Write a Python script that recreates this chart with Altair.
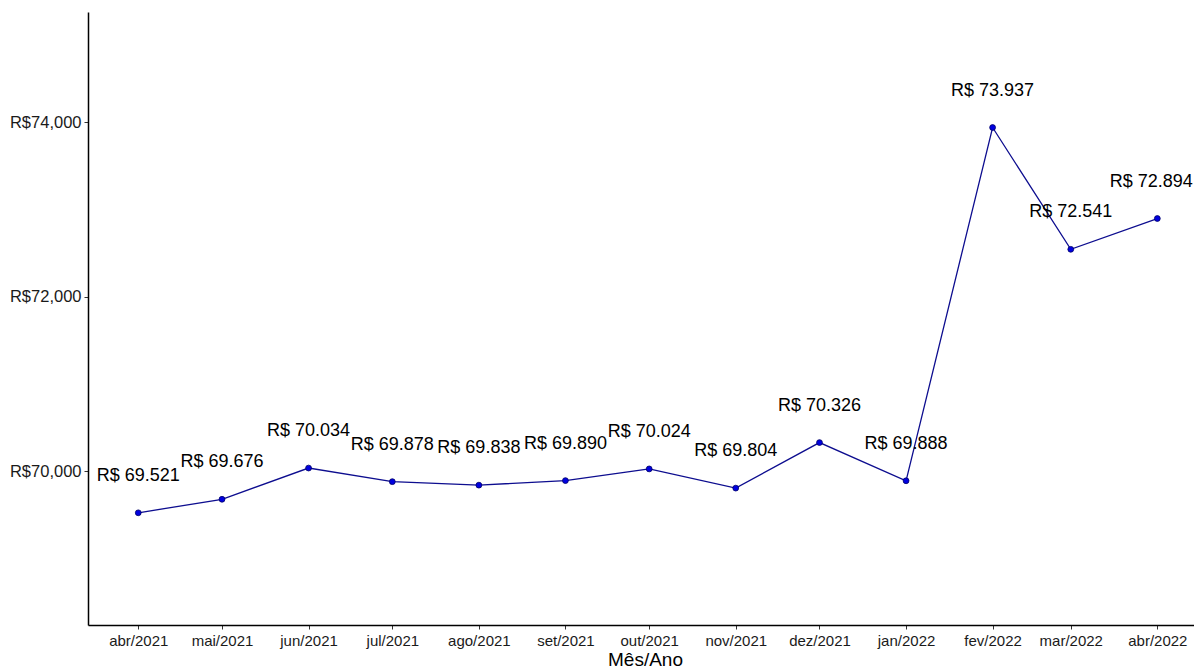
import altair as alt
import pandas as pd

# Data
meses = [(2021, 4), (2021, 5), (2021, 6), (2021, 7), (2021, 8), (2021, 9),
         (2021, 10), (2021, 11), (2021, 12), (2022, 1), (2022, 2), (2022, 3), (2022, 4)]
valores = [69521, 69676, 70034, 69878, 69838, 69890, 70024, 69804, 70326, 69888,
           73937, 72541, 72894]
abrev = ["jan", "fev", "mar", "abr", "mai", "jun", "jul", "ago", "set", "out", "nov", "dez"]
y_ticks = [70000, 72000, 74000]
titulo = "Fonte: Base de Dados SIGRH (Em Mil R$)"

df = pd.DataFrame({
    "mes": [f"{y:04d}-{m:02d}-01T00:00:00" for y, m in meses],
    "valor": valores,
})
df["rotulo"] = ["R$ " + f"{v:,}".replace(",", ".") for v in valores]
df["ultimo"] = [i == len(valores) - 1 for i in range(len(valores))]

month_values = [alt.DateTime(year=y, month=m, date=1) for y, m in meses]
label_expr = "[" + ",".join(f"'{a}'" for a in abrev) + "][month(datum.value)] + '/' + year(datum.value)"

x = alt.X(
    "mes:T",
    scale=alt.Scale(domain=[alt.DateTime(year=2021, month=3, date=14),
                            alt.DateTime(year=2022, month=4, date=17)]),
    axis=alt.Axis(values=month_values, labelExpr=label_expr, title="Mês/Ano",
                  grid=False, labelFontSize=15, titleFontSize=19,
                  labelPadding=4, titlePadding=2, labelOverlap=False,
                  titleFontWeight="normal", titleColor="black"),
)
y = alt.Y(
    "valor:Q",
    scale=alt.Scale(domain=[68235, 75261], nice=False, zero=False),
    axis=alt.Axis(values=y_ticks, labelExpr="'R$' + format(datum.value, ',')",
                  title=None, grid=False, labelFontSize=16.5, labelPadding=3),
)

base = alt.Chart(df).encode(x=x, y=y)
line = base.mark_line(color="#0d0d8f", strokeWidth=1.3)
points = base.mark_point(filled=True, color="#0000e0", size=34, opacity=1,
                         stroke="#000066", strokeWidth=0.8)
labels = base.transform_filter("!datum.ultimo").mark_text(
    dy=-37, fontSize=18, color="black", font="Liberation Sans").encode(text="rotulo:N")
last_label = base.transform_filter("datum.ultimo").mark_text(
    dy=-37, dx=-6, fontSize=18, color="black", font="Liberation Sans").encode(text="rotulo:N")

chart = (
    alt.layer(line, points, labels, last_label)
    .properties(
        width=1114,
        height=613,
        autosize=alt.AutoSizeParams(type="none"),
        padding={"left": 80, "top": 4, "right": -8, "bottom": 44},
        title=alt.TitleParams(titulo, anchor="start", fontSize=22,
                              fontWeight="normal", font="Liberation Sans",
                              color="black", offset=9),
    )
    .configure_view(stroke=None)
    .configure_axis(
        domainColor="black", domainWidth=1.5, tickColor="#333333", tickSize=4,
        labelColor="#1a1a1a", labelFont="Liberation Sans", titleFont="Liberation Sans",
    )
)

chart.save("out.html", embed_options={"renderer": "svg", "actions": False})
